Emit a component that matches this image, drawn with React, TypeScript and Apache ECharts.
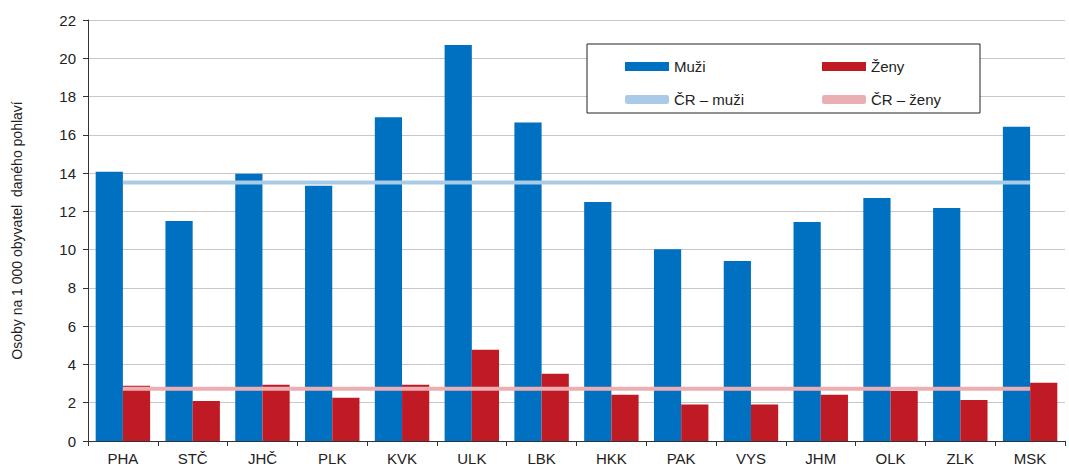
import React, { useEffect, useRef } from "react";
import * as echarts from "echarts";

const categories = ["PHA", "STČ", "JHČ", "PLK", "KVK", "ULK", "LBK", "HKK", "PAK", "VYS", "JHM", "OLK", "ZLK", "MSK"];
const muzi = [14.07, 11.5, 13.97, 13.34, 16.92, 20.7, 16.64, 12.49, 10.02, 9.41, 11.44, 12.7, 12.17, 16.42];
const zeny = [2.89, 2.09, 2.94, 2.26, 2.94, 4.77, 3.51, 2.42, 1.91, 1.91, 2.42, 2.61, 2.14, 3.04];
const crMuzi = 13.51;
const crZeny = 2.73;

export default function App() {
  const ref = useRef<HTMLDivElement>(null);
  useEffect(() => {
    document.body.style.margin = "0";
    const chart = echarts.init(ref.current!, null, { renderer: "svg" });
    const font = "Liberation Sans, Arial, sans-serif";
    const lt = { fontSize: 15, color: "#222", fontFamily: font };
    chart.setOption({
      animation: false,
      textStyle: { fontFamily: font },
      grid: { left: 88, right: 4, top: 20, bottom: 30 },
      legend: [
        {
          orient: "vertical", left: 620, top: 54, itemWidth: 44, itemHeight: 9, itemGap: 18, z: 10,
          textStyle: lt,
          data: [
            { name: "Muži", icon: "rect" },
            { name: "ČR – muži", icon: "roundRect", itemStyle: { color: "#a9cbe8" } },
          ],
        },
        {
          orient: "vertical", left: 817, top: 54, itemWidth: 44, itemHeight: 9, itemGap: 18, z: 10,
          textStyle: lt,
          data: [
            { name: "Ženy", icon: "rect" },
            { name: "ČR – ženy", icon: "roundRect", itemStyle: { color: "#eaaeb3" } },
          ],
        },
      ],
      graphic: [
        { type: "rect", shape: { x: 587, y: 44, width: 393, height: 69 }, style: { fill: "#fff", stroke: "#222", lineWidth: 1 }, z: 3 },
      ],
      xAxis: [
        {
          type: "category", data: categories,
          axisLine: { lineStyle: { color: "#333" } },
          axisTick: { show: true, lineStyle: { color: "#333" } },
          axisLabel: { fontSize: 15, color: "#222", fontFamily: font, margin: 10 },
        },
      ],
      yAxis: {
        type: "value", min: 0, max: 22, interval: 2,
        name: "Osoby na 1 000 obyvatel  daného pohlaví",
        nameLocation: "middle", nameGap: 64, nameRotate: 90,
        nameTextStyle: { fontSize: 14, color: "#222", fontFamily: font },
        axisLine: { show: true, lineStyle: { color: "#333" } },
        axisTick: { show: true, lineStyle: { color: "#333" } },
        axisLabel: { fontSize: 15, color: "#222", fontFamily: font, margin: 12 },
        splitLine: { lineStyle: { color: "#c8c8c8" } },
      },
      series: [
        { name: "Muži", type: "bar", data: muzi, barGap: "0%", barCategoryGap: "22%", itemStyle: { color: "#0070c0" } },
        { name: "Ženy", type: "bar", data: zeny, itemStyle: { color: "#c01b24" } },
        {
          name: "ČR – muži", type: "line", data: categories.map(() => crMuzi), symbol: "none",
          lineStyle: { color: "#a9cbe8", width: 4 }, itemStyle: { color: "#a9cbe8" }, z: 5,
        },
        {
          name: "ČR – ženy", type: "line", data: categories.map(() => crZeny), symbol: "none",
          lineStyle: { color: "#eaaeb3", width: 4 }, itemStyle: { color: "#eaaeb3" }, z: 5,
        },
      ],
    });
    return () => chart.dispose();
  }, []);
  return <div ref={ref} style={{ width: 1069, height: 471, background: "#fff" }} />;
}
